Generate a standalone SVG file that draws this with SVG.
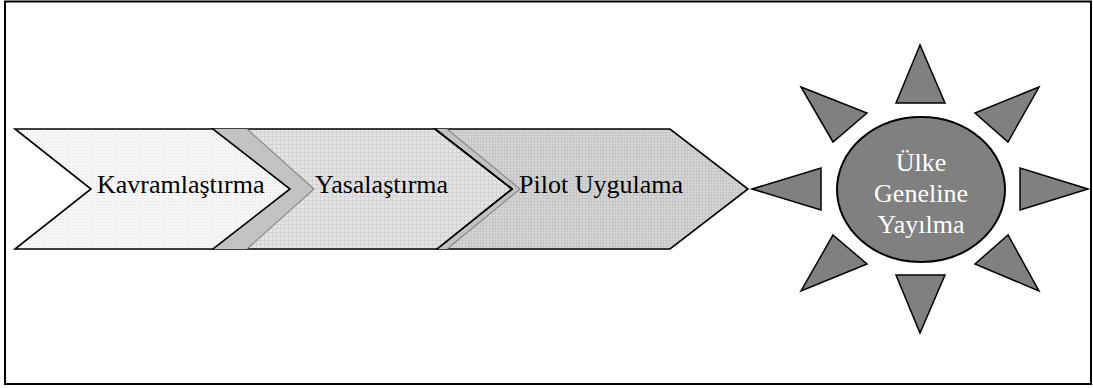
<svg xmlns="http://www.w3.org/2000/svg" width="1093" height="388" viewBox="0 0 1093 388">
<style>
.lbl{font-family:"Liberation Serif","Times New Roman",serif;font-size:26px;fill:#000}
.sunlbl{font-family:"Liberation Serif","Times New Roman",serif;font-size:26px;fill:#fff;text-anchor:middle}
.chev{stroke:#000;stroke-width:1.6;stroke-linejoin:miter}
.band{fill:#c2c2c2;stroke:none}
.gline{fill:none;stroke:#8a8a8a;stroke-width:1.2}
.ray{fill:#808080;stroke:#000;stroke-width:1.5;stroke-linejoin:miter}
</style>
<defs>
<pattern id="p1" width="3" height="3" patternUnits="userSpaceOnUse">
<rect width="3" height="3" fill="#f6f6f6"/><rect width="1" height="1" fill="#e2e2e2"/>
</pattern>
<pattern id="p2" width="4" height="4" patternUnits="userSpaceOnUse">
<rect width="4" height="4" fill="#e4e4e4"/><rect width="4" height="1" fill="#d4d4d4"/><rect width="1" height="4" fill="#d4d4d4"/>
</pattern>
<pattern id="p3" width="3" height="3" patternUnits="userSpaceOnUse">
<rect width="3" height="3" fill="#d6d6d6"/><rect width="3" height="1" fill="#c6c6c6"/><rect width="1" height="3" fill="#c6c6c6"/>
</pattern>
</defs>
<rect x="0" y="0" width="1093" height="388" fill="#fff"/>
<rect x="5" y="1.5" width="1086" height="382.5" fill="none" stroke="#000" stroke-width="2"/>

<g id="node-pilot">
<polygon class="chev" fill="url(#p3)" points="435,129 670,129 748,189 670,249 437,249 512,189"/>
<polygon class="band" points="435,129 447,129 520,189 447,249 437,249 512,189"/>
<polyline class="gline" points="447,129 520,189 447,249"/>
<polyline class="chev" fill="none" points="435,129 512,189 437,249"/>
<text class="lbl" x="519" y="193">Pilot Uygulama</text>
</g>

<g id="node-yasal">
<polygon class="chev" fill="url(#p2)" points="213,129 435,129 512,189 437,249 213,249 290,189"/>
<polygon class="band" points="213,129 247,129 314,189 247,249 213,249 290,189"/>
<polyline class="gline" points="247,129 314,189 247,249"/>
<polyline class="chev" fill="none" points="435,129 512,189 437,249"/>
<text class="lbl" x="315" y="193">Yasalaştırma</text>
</g>

<g id="node-kavram">
<polygon class="chev" fill="url(#p1)" points="15,129 213,129 290,189 213,249 15,249 91,189"/>
<text class="lbl" x="97" y="193">Kavramlaştırma</text>
</g>

<g id="node-ulke">
<polygon class="ray" points="920,45 896,103 945,103"/>
<polygon class="ray" points="896,275 945,275 920,333"/>
<polygon class="ray" points="752,189 821,168 821,210"/>
<polygon class="ray" points="1088,189 1020,168 1020,210"/>
<polygon class="ray" points="801,87 867,113 833,142"/>
<polygon class="ray" points="1039,87 975,113 1008,142"/>
<polygon class="ray" points="833,235 867,264 801,291"/>
<polygon class="ray" points="1008,235 975,264 1039,291"/>
<ellipse cx="921" cy="189.5" rx="84" ry="72.5" fill="#808080" stroke="#000" stroke-width="2"/>
<text class="sunlbl" x="921" y="171">Ülke</text>
<text class="sunlbl" x="921" y="202">Geneline</text>
<text class="sunlbl" x="921" y="233">Yayılma</text>
</g>
</svg>
